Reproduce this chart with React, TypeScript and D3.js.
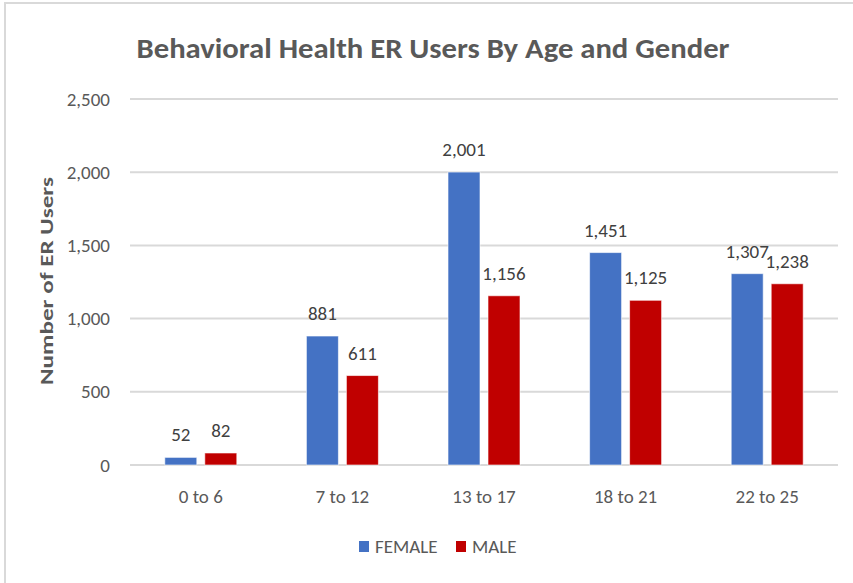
import React from "react";
import * as d3 from "d3";

const categories = ["0 to 6", "7 to 12", "13 to 17", "18 to 21", "22 to 25"];
const seriesNames = ["FEMALE", "MALE"];
const femaleValues = [52, 881, 2001, 1451, 1307];
const maleValues = [82, 611, 1156, 1125, 1238];
const yTicks = [0, 500, 1000, 1500, 2000, 2500];
const colors = ["#4472C4", "#C00000"];

const W = 853;
const H = 583;
const FONT = "Carlito, Lato, 'Open Sans', sans-serif";

export default function App() {
  const x = d3.scaleBand<string>().domain(categories).range([130, 838]).padding(0);
  const y = d3.scaleLinear().domain([0, 2500]).range([465, 99]);
  const inner = d3.scaleBand<string>().domain(seriesNames).range([-36, 36]).paddingInner(0.2);
  const fmt = d3.format(",");
  const series = [femaleValues, maleValues];

  return (
    <svg width={W} height={H} style={{ position: "absolute", left: 0, top: 0, background: "#fff" }} fontFamily={FONT}>
      <rect x={0} y={0} width={W} height={H} fill="#fff" />
      <rect x={5} y={3} width={W + 50} height={H + 50} fill="none" stroke="#d9d9d9" strokeWidth={2} />
      <text x={433} y={58} textAnchor="middle" fontSize={29} fontWeight="bold" fill="#595959" textLength={593} lengthAdjust="spacingAndGlyphs">
        Behavioral Health ER Users By Age and Gender
      </text>
      {yTicks.map((t) => (
        <g key={t}>
          <line x1={130} x2={838} y1={y(t)} y2={y(t)} stroke="#d9d9d9" strokeWidth={2} />
          <text x={110} y={y(t) + 6.5} textAnchor="end" fontSize={19} fill="#595959">
            {fmt(t)}
          </text>
        </g>
      ))}
      <text transform={`translate(53,281) rotate(-90)`} textAnchor="middle" fontSize={18} fontWeight="bold" fill="#595959" textLength={208} lengthAdjust="spacingAndGlyphs">
        Number of ER Users
      </text>
      {categories.map((c, i) => {
        const cx = (x(c) as number) + x.bandwidth() / 2;
        return (
          <g key={c}>
            {series.map((vals, s) => {
              const bx = cx + (inner(seriesNames[s]) as number);
              const v = vals[i];
              return (
                <g key={s}>
                  <rect x={bx} y={y(v)} width={inner.bandwidth()} height={y(0) - y(v)} fill={colors[s]} stroke="#ffffff" strokeOpacity={0.6} strokeWidth={1} />
                  <text x={bx + inner.bandwidth() / 2} y={y(v) - 16} textAnchor="middle" fontSize={19} fill="#404040">
                    {fmt(v)}
                  </text>
                </g>
              );
            })}
            <text x={cx} y={503} textAnchor="middle" fontSize={19} fill="#595959">
              {c}
            </text>
          </g>
        );
      })}
      {seriesNames.map((n, s) => {
        const lx = s === 0 ? 359 : 456;
        return (
          <g key={n}>
            <rect x={lx} y={541} width={10} height={11} fill={colors[s]} />
            <text x={lx + 16} y={553} fontSize={19} fill="#595959">
              {n}
            </text>
          </g>
        );
      })}
    </svg>
  );
}
